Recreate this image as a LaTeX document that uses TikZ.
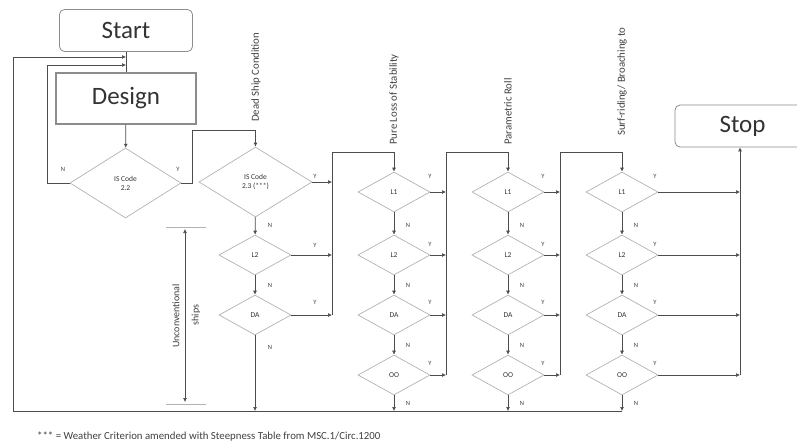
\documentclass[tikz,border=0pt]{standalone}
\usepackage{fontspec}
\setmainfont{Carlito}
\usetikzlibrary{shapes.geometric,arrows.meta}
\begin{document}
\begin{tikzpicture}[x=1pt,y=-1pt,
 conn/.style={draw=black!70,line width=0.7pt},
 arr/.style={conn,-{Latex[length=4pt,width=4pt]}},
 dia/.style={diamond,draw=black!30,line width=0.7pt,minimum width=72pt,minimum height=40pt,inner sep=0pt,align=center,font=\fontsize{7.5}{9}\selectfont,text=black!80},
 bigbox/.style={draw=black!45,line width=0.8pt,font=\fontsize{25}{28}\selectfont,text=black!80},
 lab/.style={font=\fontsize{6.5}{7}\selectfont,text=black!75},
 vlab/.style={rotate=90,anchor=west,inner sep=0pt,font=\fontsize{10.8}{12}\selectfont,text=black!75}]
\useasboundingbox (0,0) rectangle (797,445);
\clip (0,0) rectangle (797,445);

% boxes
\node[bigbox,rounded corners=5pt,minimum width=133pt,minimum height=42pt] (start) at (126,30.5) {Start};
\node[bigbox,line width=1.1pt,minimum width=140pt,minimum height=51pt] (design) at (126,98.5) {Design};
\node[bigbox,rounded corners=5pt,minimum width=135pt,minimum height=42pt] (stop) at (742.5,126) {Stop};

% diamonds
\node[dia,minimum width=111pt,minimum height=70pt] (c22) at (125.5,183) {IS Code\\2.2};
\node[dia,minimum width=113pt,minimum height=70pt] (d0) at (255.5,182) {IS Code\\2.3 (***)};
\node[dia] (d1) at (255,255) {L2};
\node[dia] (d2) at (255,315) {DA};

\node[dia] (p1) at (394,192) {L1};
\node[dia] (p2) at (394,255) {L2};
\node[dia] (p3) at (394,315) {DA};
\node[dia] (p4) at (394,375) {OO};

\node[dia] (r1) at (508,192) {L1};
\node[dia] (r2) at (508,255) {L2};
\node[dia] (r3) at (508,315) {DA};
\node[dia] (r4) at (508,375) {OO};

\node[dia] (s1) at (622,192) {L1};
\node[dia] (s2) at (622,255) {L2};
\node[dia] (s3) at (622,315) {DA};
\node[dia] (s4) at (622,375) {OO};

% column titles
\node[vlab] (t0) at (256,122) {Dead Ship Condition};
\node[vlab] (t1) at (394,145) {Pure Loss of Stability};
\node[vlab] (t2) at (508,145) {Parametric Roll};
\node[vlab] (t3) at (622,136) {Surf-riding/ Broaching to};

% coordinates
\coordinate (jA) at (126,57);
\coordinate (jB) at (126,65);
\coordinate (bl) at (13,411);
\coordinate (b0) at (255,411);
\coordinate (b1) at (394,411);
\coordinate (b2) at (508,411);
\coordinate (b3) at (622,411);
\coordinate (v0) at (332,152);
\coordinate (v1) at (446,152);
\coordinate (v2) at (560,152);
\coordinate (v3) at (740,375);

% start / design
\draw[conn] (start.south) -- (design.north);
\draw[arr] (design) -- (c22);
\draw[arr] (c22.west) -| (47,65) -- (jB);
\draw[arr] (b3) -- (bl) -- (13,57) -- (jA);
\draw[arr] (c22.east) -- (192,183) -- (192,130) -| (d0.north);

% dead ship column
\draw[arr] (d0) -- (d1);
\draw[arr] (d1) -- (d2);
\draw[arr] (d2) -- (b0);
\draw[arr] (d0.east) -- (d0.east -| v0);
\draw[arr] (d1.east) -- (d1.east -| v0);
\draw[arr] (d2.east) -- (d2.east -| v0);
\draw[conn] (d2.east -| v0) -- (v0);
\draw[arr] (v0) -| (p1.north);

% pure loss column
\draw[arr] (p1) -- (p2);
\draw[arr] (p2) -- (p3);
\draw[arr] (p3) -- (p4);
\draw[arr] (p4) -- (b1);
\draw[arr] (p1.east) -- (p1.east -| v1);
\draw[arr] (p2.east) -- (p2.east -| v1);
\draw[arr] (p3.east) -- (p3.east -| v1);
\draw[arr] (p4.east) -- (p4.east -| v1);
\draw[conn] (p4.east -| v1) -- (v1);
\draw[arr] (v1) -| (r1.north);

% parametric roll column
\draw[arr] (r1) -- (r2);
\draw[arr] (r2) -- (r3);
\draw[arr] (r3) -- (r4);
\draw[arr] (r4) -- (b2);
\draw[arr] (r1.east) -- (r1.east -| v2);
\draw[arr] (r2.east) -- (r2.east -| v2);
\draw[arr] (r3.east) -- (r3.east -| v2);
\draw[arr] (r4.east) -- (r4.east -| v2);
\draw[conn] (r4.east -| v2) -- (v2);
\draw[arr] (v2) -| (s1.north);

% surf-riding column
\draw[arr] (s1) -- (s2);
\draw[arr] (s2) -- (s3);
\draw[arr] (s3) -- (s4);
\draw[arr] (s4) -- (b3);
\draw[arr] (s1.east) -- (s1.east -| v3);
\draw[arr] (s2.east) -- (s2.east -| v3);
\draw[arr] (s3.east) -- (s3.east -| v3);
\draw[arr] (s4.east) -- (v3);
\draw[arr] (v3) -- (v3 |- stop.south);

% dimension
\coordinate (dt) at (185,229);
\coordinate (db) at (185,402);
\draw[draw=black!30,line width=0.6pt] (166,227) -- (206,227);
\draw[draw=black!30,line width=0.6pt] (166,404) -- (206,404);
\draw[conn,{Latex[length=4pt,width=4pt]}-{Latex[length=4pt,width=4pt]}] (dt) -- (db);
\node[rotate=90,inner sep=0pt,font=\fontsize{10}{11}\selectfont,text=black!75] (u1) at (176,316) {Unconventional};
\node[rotate=90,inner sep=0pt,font=\fontsize{10}{11}\selectfont,text=black!75] (u2) at (196,315) {ships};

% Y / N labels
\node[lab] at (63,169) {N};
\node[lab] at (178,169) {Y};
\node[lab] at (315,176) {Y};
\node[lab] at (315,245) {Y};
\node[lab] at (315,302) {Y};
\node[lab] at (270,225) {N};
\node[lab] at (270,285) {N};
\node[lab] at (270,347) {N};
\foreach \cx/\yx in {394/430,508/543,622/655}{
  \node[lab] at (\yx,176) {Y};
  \node[lab] at (\yx,244) {Y};
  \node[lab] at (\yx,302) {Y};
  \node[lab] at (\yx,363) {Y};
  \node[lab] at (\cx+14,225) {N};
  \node[lab] at (\cx+14,285) {N};
  \node[lab] at (\cx+14,345) {N};
  \node[lab] at (\cx+14,403) {N};
}

% footnote
\node[anchor=west,inner sep=0pt,font=\fontsize{10.8}{12}\selectfont,text=black!75] (fn) at (37,437) {*** = Weather Criterion amended with Steepness Table from MSC.1/Circ.1200};
\end{tikzpicture}
\end{document}
